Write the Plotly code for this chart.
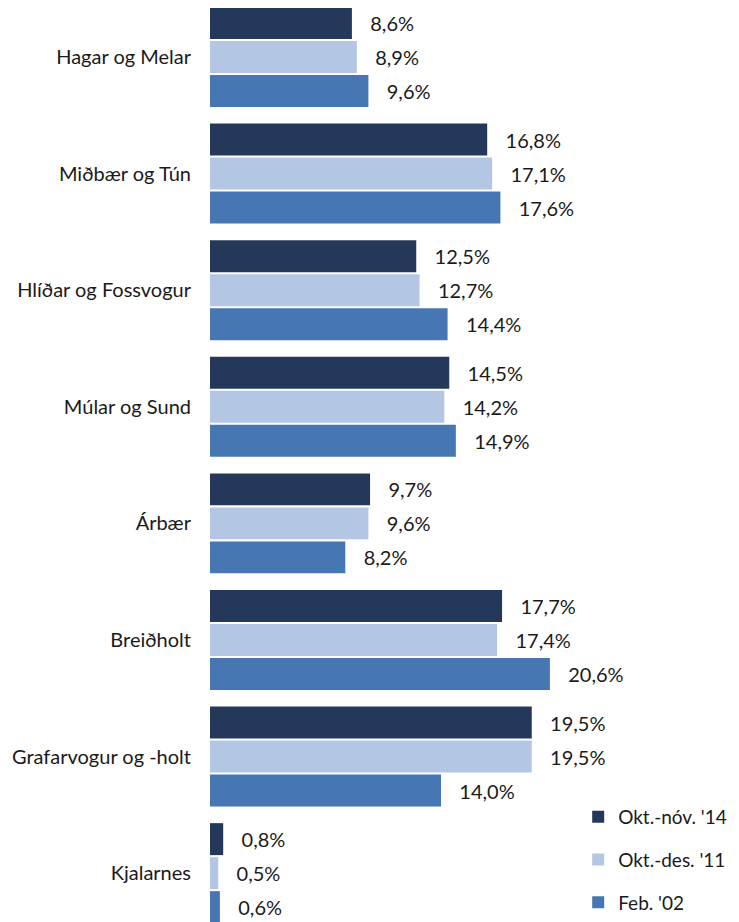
import plotly.graph_objects as go

categories = ["Hagar og Melar", "Miðbær og Tún", "Hlíðar og Fossvogur", "Múlar og Sund",
              "Árbær", "Breiðholt", "Grafarvogur og -holt", "Kjalarnes"]
series_names = ["Okt.-nóv. '14", "Okt.-des. '11", "Feb. '02"]
okt_nov_14 = [8.6, 16.8, 12.5, 14.5, 9.7, 17.7, 19.5, 0.8]
okt_des_11 = [8.9, 17.1, 12.7, 14.2, 9.6, 17.4, 19.5, 0.5]
feb_02 = [9.6, 17.6, 14.4, 14.9, 8.2, 20.6, 14.0, 0.6]
colors = ["#243859", "#B3C7E4", "#4677B3"]

FONT = "Lato"
fig = go.Figure()
for i, (name, vals) in enumerate(zip(series_names, [okt_nov_14, okt_des_11, feb_02])):
    fig.add_trace(go.Bar(
        y=list(range(len(categories))), x=vals, orientation="h", name=name,
        marker=dict(color=colors[i], line=dict(width=0)),
        texttemplate="\u00a0\u00a0\u00a0%{x:.1f}%", textposition="outside",
        textfont=dict(family=FONT, size=20, color="#1a1a1a"),
        cliponaxis=False, legendgroup=name,
    ))

fig.update_layout(
    width=731, height=914,
    margin=dict(l=202, r=0, t=0, b=0),
    barmode="group", bargap=0.125, bargroupgap=0.06,
    separators=",.",
    plot_bgcolor="white", paper_bgcolor="white",
    font=dict(family=FONT, size=18, color="#1a1a1a"),
    showlegend=True,
    legend=dict(x=0.696, y=0.1357, xanchor="left", yanchor="top",
                font=dict(family=FONT, size=19, color="#1a1a1a"),
                tracegroupgap=15, bgcolor="rgba(0,0,0,0)"),
)
fig.update_xaxes(range=[0, 529 / 16.5], visible=False, showgrid=False)
fig.update_yaxes(tickmode="array", tickvals=list(range(len(categories))), ticktext=categories,
                 range=[7.419, -0.4202], showgrid=False, zeroline=False, showline=False,
                 ticks="", ticklabelstandoff=18,
                 tickfont=dict(family=FONT, size=20, color="#1a1a1a"))

fig.write_html("out.html")
